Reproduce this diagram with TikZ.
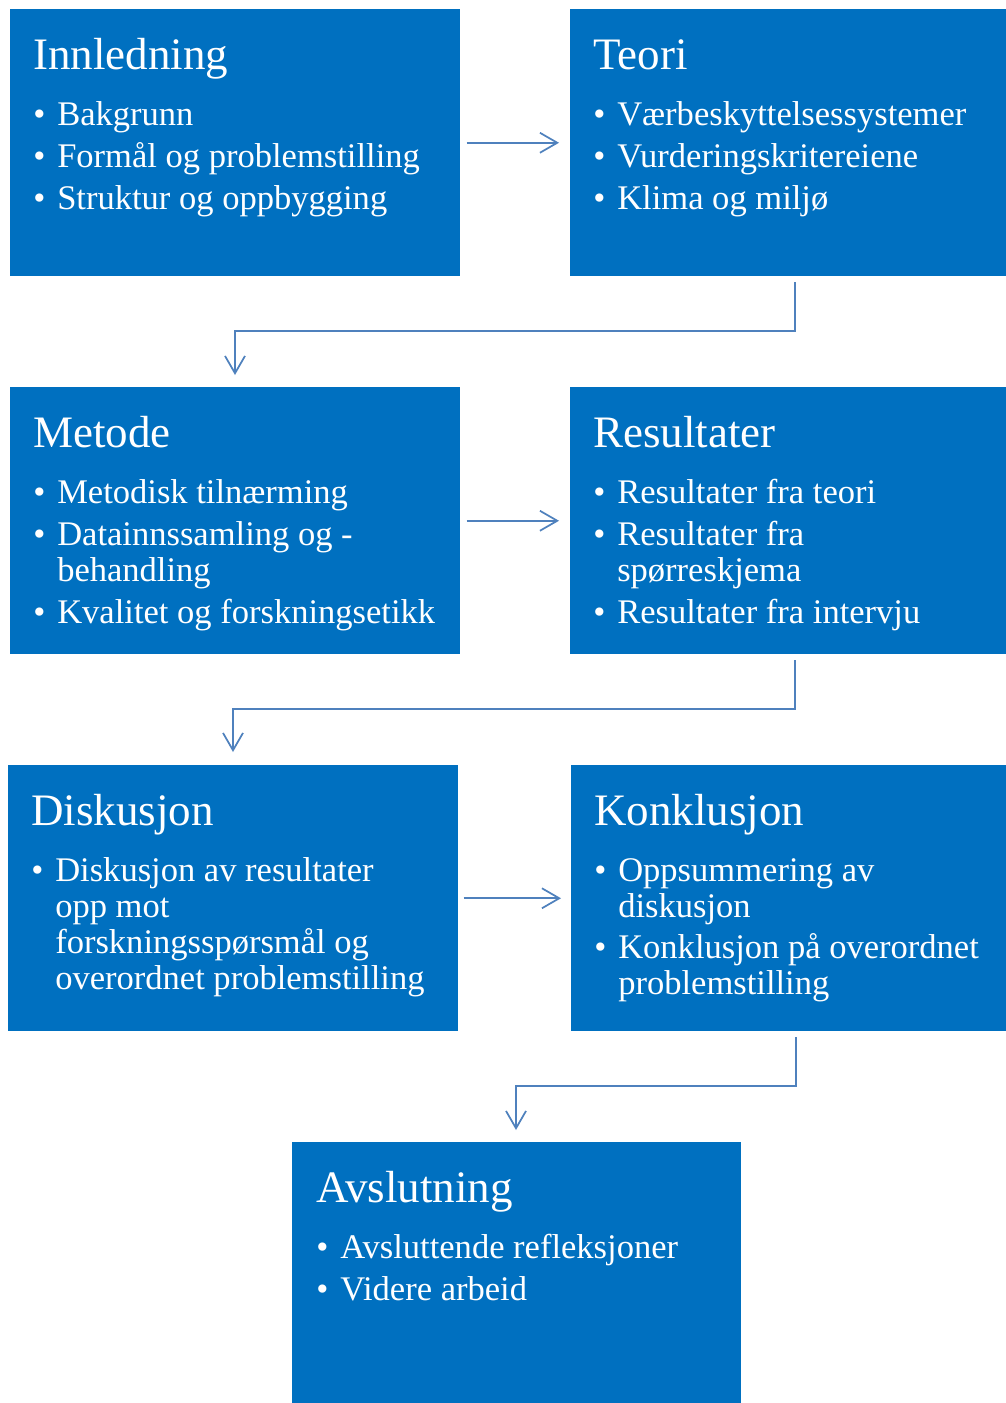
\documentclass[tikz,border=0pt]{standalone}
\usepackage{fontspec}
\setmainfont{Liberation Serif}
\usetikzlibrary{arrows.meta}
\definecolor{boxblue}{HTML}{0070C0}
\definecolor{linkblue}{HTML}{4F81BD}
\tikzset{
  panel/.style={fill=boxblue, draw=none, inner sep=0pt, anchor=north west},
  ttl/.style={text=white, anchor=base west, inner sep=0pt, font=\fontsize{33.75}{40}\selectfont},
  itm/.style={text=white, anchor=base west, inner sep=0pt, font=\fontsize{25.9}{30}\selectfont},
  link/.style={draw=linkblue, line width=1.3pt, -{Straight Barb[length=13pt,width=15pt,line width=1.3pt]}},
}
\begin{document}
\begin{tikzpicture}[x=0.75pt,y=-0.75pt]
\useasboundingbox (0,0) rectangle (1006,1403);

% panels
\node[panel, minimum width=450*0.75pt, minimum height=267*0.75pt] (p1) at (10,9) {};
\node[panel, minimum width=436*0.75pt, minimum height=267*0.75pt] (p2) at (570,9) {};
\node[panel, minimum width=450*0.75pt, minimum height=267*0.75pt] (p3) at (10,387) {};
\node[panel, minimum width=436*0.75pt, minimum height=267*0.75pt] (p4) at (570,387) {};
\node[panel, minimum width=450*0.75pt, minimum height=266*0.75pt] (p5) at (8,765) {};
\node[panel, minimum width=435*0.75pt, minimum height=266*0.75pt] (p6) at (571,765) {};
\node[panel, minimum width=449*0.75pt, minimum height=261*0.75pt] (p7) at (292,1142) {};

% Innledning
\node[ttl] (t1) at (33,69) {Innledning};
\node[itm] (b1a) at (33,125) {•}; \node[itm] (i1a) at (57,125) {Bakgrunn};
\node[itm] (b1b) at (33,167) {•}; \node[itm] (i1b) at (57,167) {Formål og problemstilling};
\node[itm] (b1c) at (33,209) {•}; \node[itm] (i1c) at (57,209) {Struktur og oppbygging};

% Teori
\node[ttl] (t2) at (593,69) {Teori};
\node[itm] (b2a) at (593,125) {•}; \node[itm] (i2a) at (617,125) {Værbeskyttelsessystemer};
\node[itm] (b2b) at (593,167) {•}; \node[itm] (i2b) at (617,167) {Vurderingskritereiene};
\node[itm] (b2c) at (593,209) {•}; \node[itm] (i2c) at (617,209) {Klima og miljø};

% Metode
\node[ttl] (t3) at (33,447) {Metode};
\node[itm] (b3a) at (33,503) {•}; \node[itm] (i3a) at (57,503) {Metodisk tilnærming};
\node[itm] (b3b) at (33,545) {•}; \node[itm] (i3b) at (57,545) {Datainnssamling og -};
\node[itm] (i3c) at (57,581) {behandling};
\node[itm] (b3d) at (33,623) {•}; \node[itm] (i3d) at (57,623) {Kvalitet og forskningsetikk};

% Resultater
\node[ttl] (t4) at (593,447) {Resultater};
\node[itm] (b4a) at (593,503) {•}; \node[itm] (i4a) at (617,503) {Resultater fra teori};
\node[itm] (b4b) at (593,545) {•}; \node[itm] (i4b) at (617,545) {Resultater fra};
\node[itm] (i4c) at (617,581) {spørreskjema};
\node[itm] (b4d) at (593,623) {•}; \node[itm] (i4d) at (617,623) {Resultater fra intervju};

% Diskusjon
\node[ttl] (t5) at (31,825) {Diskusjon};
\node[itm] (b5a) at (31,881) {•}; \node[itm] (i5a) at (55,881) {Diskusjon av resultater};
\node[itm] (i5b) at (55,917) {opp mot};
\node[itm] (i5c) at (55,953) {forskningsspørsmål og};
\node[itm] (i5d) at (55,989) {overordnet problemstilling};

% Konklusjon
\node[ttl] (t6) at (594,825) {Konklusjon};
\node[itm] (b6a) at (594,881) {•}; \node[itm] (i6a) at (618,881) {Oppsummering av};
\node[itm] (i6b) at (618,917) {diskusjon};
\node[itm] (b6c) at (594,958) {•}; \node[itm] (i6c) at (618,958) {Konklusjon på overordnet};
\node[itm] (i6d) at (618,994) {problemstilling};

% Avslutning
\node[ttl] (t7) at (316,1202) {Avslutning};
\node[itm] (b7a) at (316,1258) {•}; \node[itm] (i7a) at (340,1258) {Avsluttende refleksjoner};
\node[itm] (b7b) at (316,1300) {•}; \node[itm] (i7b) at (340,1300) {Videre arbeid};

% connectors
\draw[link] ([xshift=6*0.75pt]p1.east) -- ([xshift=-11*0.75pt]p2.west);
\draw[link] ([xshift=6*0.75pt]p3.east) -- ([xshift=-11*0.75pt]p4.west);
\draw[link] ([xshift=5*0.75pt]p5.east) -- ([xshift=-10*0.75pt]p6.west);

\coordinate (c1) at (795,282);
\coordinate (c1e) at (235,375);
\draw[link] (c1) |- (235,331) -- (c1e);
\coordinate (c2) at (795,660);
\coordinate (c2e) at (233,752);
\draw[link] (c2) |- (233,709) -- (c2e);
\coordinate (c3) at (796,1037);
\coordinate (c3e) at (516,1130);
\draw[link] (c3) |- (516,1086) -- (c3e);
\end{tikzpicture}
\end{document}
